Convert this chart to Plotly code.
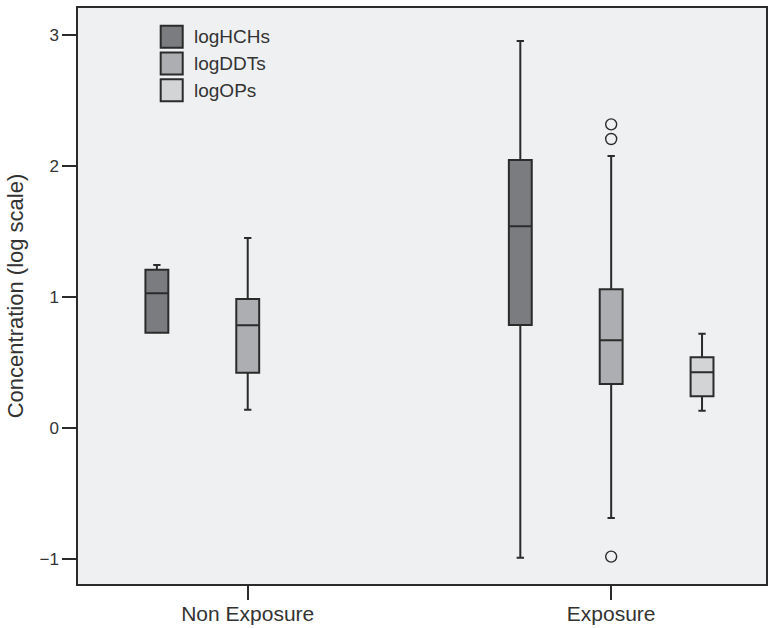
import plotly.graph_objects as go

# Exposure groups and pesticide series (log10 concentration)
groups = ["Non Exposure", "Exposure"]
series = ["logHCHs", "logDDTs", "logOPs"]
fills = ["#7b7c80", "#adaeb2", "#d3d4d6"]

# Box statistics per series, one value per group (None = no data)
lower = {
    "logHCHs": [0.727, -0.99],
    "logDDTs": [0.14, -0.687],
    "logOPs": [None, 0.132],
}
q1 = {
    "logHCHs": [0.727, 0.786],
    "logDDTs": [0.422, 0.336],
    "logOPs": [None, 0.242],
}
median = {
    "logHCHs": [1.028, 1.54],
    "logDDTs": [0.784, 0.669],
    "logOPs": [None, 0.425],
}
q3 = {
    "logHCHs": [1.208, 2.046],
    "logDDTs": [0.985, 1.059],
    "logOPs": [None, 0.54],
}
upper = {
    "logHCHs": [1.244, 2.954],
    "logDDTs": [1.45, 2.076],
    "logOPs": [None, 0.72],
}
# Outlying observations: (group, value)
outliers = {
    "logDDTs": [("Exposure", 2.318), ("Exposure", 2.206), ("Exposure", -0.982)],
}

ink = "#2b2b2b"
slot = 0.25        # spacing between boxes inside a group
box_w = 0.063

fig = go.Figure()

for k, name in enumerate(series):
    offset = (k - 1) * slot
    xs, a, b, c, d, e = [], [], [], [], [], []
    for g, grp in enumerate(groups):
        if median[name][g] is None:
            continue
        xs.append(g + offset)
        a.append(lower[name][g])
        b.append(q1[name][g])
        c.append(median[name][g])
        d.append(q3[name][g])
        e.append(upper[name][g])
    fig.add_trace(go.Box(
        x=xs, lowerfence=a, q1=b, median=c, q3=d, upperfence=e,
        name=name, width=box_w, whiskerwidth=0.32,
        fillcolor=fills[k], line=dict(color=ink, width=2),
        boxpoints=False, showlegend=False, hoverinfo="skip",
    ))
    pts = outliers.get(name, [])
    if pts:
        fig.add_trace(go.Scatter(
            x=[groups.index(gp) + offset for gp, _ in pts],
            y=[v for _, v in pts],
            mode="markers",
            marker=dict(symbol="circle-open", size=11, color=ink,
                        line=dict(width=1.4, color=ink)),
            showlegend=False, hoverinfo="skip",
        ))

# Key in the upper-left corner of the plot area (paper coordinates)
key_x0, key_w = 0.1202, 0.032
key_top, key_h, key_step = 0.9693, 0.0382, 0.0465
for k, name in enumerate(series):
    top = key_top - k * key_step
    fig.add_shape(type="rect", xref="paper", yref="paper",
                  x0=key_x0, x1=key_x0 + key_w, y0=top - key_h, y1=top,
                  fillcolor=fills[k], line=dict(color=ink, width=2))
    fig.add_annotation(xref="paper", yref="paper",
                       x=key_x0 + key_w + 0.013, y=top - key_h / 2,
                       text=name, showarrow=False,
                       xanchor="left", yanchor="middle",
                       font=dict(size=19, color="#333333"))

fig.update_layout(
    width=774, height=628,
    margin=dict(l=78, r=8, t=8, b=44),
    paper_bgcolor="white",
    plot_bgcolor="#eff0f2",
    showlegend=False,
    font=dict(family="Liberation Sans, Arial, sans-serif", color="#333333"),
    xaxis=dict(
        range=[-0.467, 1.426], tickvals=list(range(len(groups))),
        ticktext=groups, showgrid=False, zeroline=False,
        showline=True, linecolor=ink, linewidth=1.5, mirror=True,
        ticks="outside", ticklen=14, tickcolor=ink, tickwidth=1.5,
        tickfont=dict(size=21), ticklabelstandoff=-4, automargin=False,
    ),
    yaxis=dict(
        range=[-1.191, 3.206], tickvals=[-1, 0, 1, 2, 3],
        showgrid=False, zeroline=False,
        showline=True, linecolor=ink, linewidth=1.5, mirror=True,
        ticks="outside", ticklen=14, tickcolor=ink, tickwidth=1.5,
        tickfont=dict(size=17), automargin=False,
        title=dict(text="Concentration (log scale)", font=dict(size=22),
                   standoff=10),
    ),
)

fig.write_html("out.html")
